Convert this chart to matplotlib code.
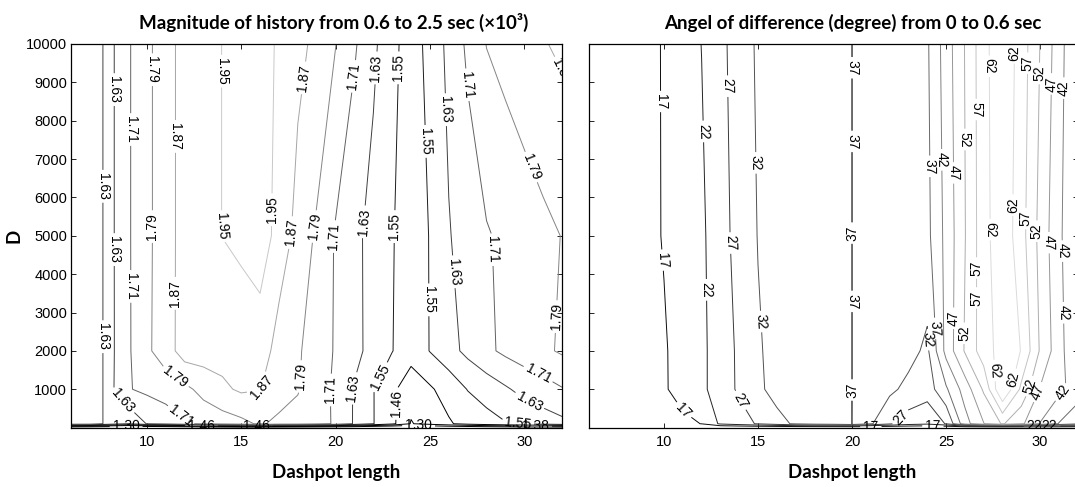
import matplotlib
matplotlib.use("Agg")
import matplotlib.pyplot as plt
from matplotlib.colors import Normalize
import numpy as np

plt.rcParams['font.family'] = ['Liberation Sans', 'DejaVu Sans']

# grid: dashpot length (columns) and D (rows)
dashpot = [6, 7, 8, 9, 10, 11, 12, 13, 14, 15, 16, 17, 18, 19, 20,
           21, 22, 23, 24, 25, 26, 27, 28, 29, 30, 31, 32]
d_val = [10, 100, 1000, 2000, 5000, 10000]

# magnitude of history, 0.6-2.5 s (x10^3), one list per D row
mag_d10 = [1.26, 1.25, 1.24, 1.22, 1.21, 1.22, 1.24, 1.26, 1.28, 1.29, 1.29, 1.28, 1.27, 1.26,
           1.25, 1.24, 1.22, 1.21, 1.22, 1.23, 1.24, 1.25, 1.26, 1.27, 1.28, 1.28, 1.29]
mag_d100 = [1.69, 1.683, 1.604, 1.555, 1.633, 1.66, 1.70, 1.735, 1.75, 1.77, 1.80, 1.77, 1.765, 1.74,
            1.70, 1.622, 1.553, 1.48, 1.375, 1.41, 1.45, 1.49, 1.52, 1.545, 1.57, 1.59, 1.61]
mag_d1000 = [1.69, 1.683, 1.604, 1.705, 1.726, 1.748, 1.77, 1.815, 1.855, 1.882, 1.872, 1.833, 1.795, 1.749,
             1.695, 1.623, 1.553, 1.475, 1.416, 1.448, 1.499, 1.553, 1.585, 1.62, 1.654, 1.677, 1.705]
mag_d2000 = [1.69, 1.683, 1.604, 1.698, 1.776, 1.83, 1.91, 1.91, 1.90, 1.881, 1.935, 1.82, 1.80, 1.751,
             1.703, 1.653, 1.602, 1.553, 1.49, 1.553, 1.602, 1.65, 1.694, 1.726, 1.75, 1.775, 1.80]
mag_d5000 = [1.69, 1.683, 1.604, 1.70, 1.77, 1.838, 1.90, 1.925, 1.951, 1.975, 1.965, 1.94, 1.832, 1.78,
             1.702, 1.651, 1.602, 1.555, 1.51, 1.553, 1.625, 1.665, 1.703, 1.727, 1.749, 1.771, 1.792]
mag_d10000 = [1.69, 1.683, 1.604, 1.70, 1.77, 1.838, 1.90, 1.925, 1.951, 1.965, 1.962, 1.946, 1.897, 1.846,
              1.792, 1.72, 1.646, 1.573, 1.51, 1.576, 1.65, 1.725, 1.792, 1.816, 1.84, 1.865, 1.883]
mag_levels = [1.13, 1.21, 1.30, 1.38, 1.46, 1.55, 1.63, 1.71, 1.79, 1.87, 1.95]

# angle of difference (degree), 0-0.6 s
ang_d10 = [11.8, 11.9, 12.0, 12.2, 12.3, 12.4, 12.6, 12.7, 12.9, 13.0, 13.1, 13.3, 13.4, 13.5,
           13.6, 13.5, 13.4, 13.2, 13.1, 13.0, 13.2, 13.4, 13.6, 13.8, 14.0, 14.1, 14.2]
ang_d100 = [12.0, 12.3, 12.6, 12.9, 13.2, 15.9, 17.1, 22.8, 24.9, 27.5, 30.2, 32.8, 34.5, 35.3,
            37.03, 32.5, 28.0, 24.5, 23.0, 27.3, 40.0, 46.8, 52.5, 48.0, 41.8, 36.8, 33.0]
ang_d1000 = [13.0, 14.0, 15.0, 15.6, 16.47, 18.87, 20.97, 24.4, 27.78, 30.9, 34.0, 34.8, 35.2, 35.2,
             37.03, 35.0, 33.0, 30.73, 29.27, 36.27, 44.2, 52.7, 67.3, 55.9, 46.7, 43.3, 39.8]
ang_d2000 = [13.0, 14.0, 15.0, 15.6, 16.52, 18.9, 20.96, 24.43, 27.88, 31.5, 33.5, 34.3, 35.0, 35.2,
             37.03, 35.0, 34.2, 33.6, 31.0, 43.5, 52.45, 59.8, 64.0, 61.9, 51.5, 43.9, 37.2]
ang_d5000 = [13.0, 14.0, 15.0, 15.5, 17.3, 19.3, 21.1, 25.1, 28.8, 32.17, 33.0, 33.8, 34.5, 35.2,
             37.03, 35.0, 34.5, 34.8, 35.7, 43.4, 51.76, 60.15, 65.5, 59.0, 50.46, 43.07, 36.9]
ang_d10000 = [13.0, 14.0, 15.0, 15.5, 17.35, 19.7, 22.07, 25.75, 29.28, 32.73, 33.6, 34.5, 35.0, 35.2,
              37.03, 35.0, 35.2, 35.6, 36.36, 44.4, 52.16, 60.33, 66.0, 59.74, 51.9, 44.2, 36.5]
ang_levels = [17, 22, 27, 32, 37, 42, 47, 52, 57, 62]

# where the contour labels sit
mag_label_spots = [
    (7.67, 6290), (8.24, 8810), (9.07, 7770), (10.31, 9330), (10.31, 5240), (11.46, 7590),
    (13.97, 9290), (13.97, 5240), (16.62, 5680), (18.24, 9120), (17.67, 5080), (18.9, 5240),
    (20.9, 9160), (19.94, 4980), (22.0, 9380), (21.37, 5370), (23.17, 9380), (23.07, 5240),
    (24.78, 7460), (26.0, 8290), (27.06, 8940), (30.0, 6720), (31.5, 9120),
    (7.62, 2370), (8.24, 4640), (9.04, 3680), (11.5, 3500), (11.33, 1200), (16.2, 1030),
    (18.14, 1330), (19.75, 980), (20.99, 1020), (22.3, 1330), (23.25, 630), (24.97, 3330),
    (26.5, 4070), (28.4, 4640), (31.8, 2890), (30.67, 1330), (30.3, 720), (29.65, 240),
    (8.56, 630), (11.7, 240), (8.9, 40), (12.9, 50), (15.8, 40), (24.4, 50), (30.6, 40),
]
ang_label_spots = [
    (9.75, 8500), (10.03, 4370), (10.66, 285), (12.1, 7720), (12.16, 3590), (13.34, 8900),
    (13.47, 4810), (14.1, 720), (14.74, 6900), (15.0, 2760),
    (20.0, 9380), (20.0, 7460), (20.0, 5070), (20.0, 3290), (20.0, 980),
    (27.15, 9420), (26.6, 8290), (25.98, 7510), (25.43, 6640), (24.88, 6980), (24.07, 6810),
    (28.72, 9770), (29.25, 9500), (29.96, 9230), (30.58, 8960), (31.2, 8850), (31.97, 7070),
    (28.6, 5800), (29.16, 5450), (29.8, 5120), (30.45, 4820), (31.15, 4600), (27.15, 5160),
    (26.9, 4160), (26.35, 3380), (25.25, 2850), (24.61, 2590), (25.88, 2460), (23.98, 2290),
    (28.06, 1500), (28.78, 1240), (29.5, 1070), (30.23, 850), (31.4, 810), (22.62, 240),
    (31.97, 3000), (21.0, 30), (24.3, 40), (29.7, 40), (30.5, 40),
]
# the 37 ridge at x=20 is a thin double line: cut the gap in its second side too
ang_twin_spots = [(20.0, 9380), (20.0, 7460), (20.0, 5070), (20.0, 3290), (20.0, 980)]

X, Y = np.meshgrid(dashpot, d_val)
Zm = np.array([mag_d10, mag_d100, mag_d1000, mag_d2000, mag_d5000, mag_d10000])
Za = np.array([ang_d10, ang_d100, ang_d1000, ang_d2000, ang_d5000, ang_d10000])

fig = plt.figure(figsize=(10.75, 4.87), dpi=100)
ax1 = fig.add_axes([0.0664, 0.122, 0.4564, 0.7877])
ax2 = fig.add_axes([0.5477, 0.122, 0.4548, 0.7877])

cs1 = ax1.contour(X, Y, Zm, levels=mag_levels, cmap='gray',
                  norm=Normalize(1.48, 2.08), linewidths=0.7)
ax1.clabel(cs1, manual=mag_label_spots, inline=True, inline_spacing=3,
           fontsize=10, fmt='%.2f', colors='k')

cs2 = ax2.contour(X, Y, Za, levels=ang_levels, cmap='gray',
                  norm=Normalize(14, 70), linewidths=0.7)
ax2.clabel(cs2, manual=ang_label_spots + ang_twin_spots, inline=True, inline_spacing=3,
           fontsize=10, fmt='%g', colors='k')
# keep the gaps of the twin line but not a second copy of the text
for t in cs2.labelTexts[-len(ang_twin_spots):]:
    t.set_visible(False)

title_font = dict(fontfamily='Lato', fontweight='bold', fontsize=13.5)
ax1.set_title('Magnitude of history from 0.6 to 2.5 sec (×10³)', x=0.535, pad=11, **title_font)
ax2.set_title('Angel of difference (degree) from 0 to 0.6 sec', x=0.540, pad=11, **title_font)

for ax in (ax1, ax2):
    ax.set_xlim(6, 32)
    ax.set_ylim(0, 10000)
    ax.set_xticks([10, 15, 20, 25, 30])
    ax.set_yticks([1000, 2000, 3000, 4000, 5000, 6000, 7000, 8000, 9000, 10000])
    ax.tick_params(direction='in', top=True, right=True, length=3.5, width=0.6,
                   labelsize=10.5, colors='k')
    ax.tick_params(axis='x', pad=5)
    ax.tick_params(axis='y', pad=3)
    ax.set_xlabel('Dashpot length', **title_font)
    ax.xaxis.set_label_coords(0.539, -0.118)
    ax.xaxis.label.set_va('center')
    for s in ax.spines.values():
        s.set_linewidth(0.9)

ax2.tick_params(labelleft=False)
ax1.set_ylabel('D', **title_font)
ax1.yaxis.set_label_coords(-0.117, 0.5)
ax1.yaxis.label.set_va('center')

fig.savefig('out.png', dpi=100)
